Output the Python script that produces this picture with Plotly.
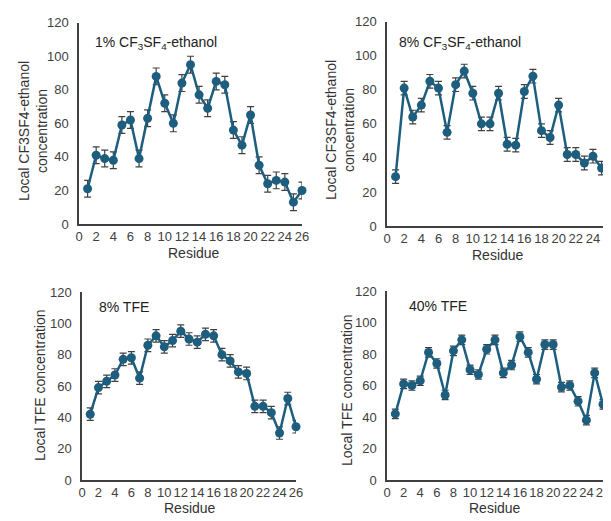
import plotly.graph_objects as go

residue = list(range(1, 27))

cf_1pct = [21, 41, 39, 38, 59, 62, 39, 63, 88, 72, 60, 84, 95, 77, 69, 85, 83, 56, 47, 65, 35, 24, 26, 25, 13, 20]
cf_1pct_err = [5] * 26

cf_8pct = [29, 81, 64, 71, 85, 81, 55, 83, 91, 78, 60, 60, 78, 48, 47.5, 79, 88, 56, 52, 71, 42, 42, 37, 41, 34, 29]
cf_8pct_err = [4] * 26

tfe_8pct = [42, 59, 63, 67, 77, 78, 65, 86, 92, 85, 89, 95, 90, 88, 93, 92, 80, 76, 69, 68, 47, 47, 43, 30, 52, 34]
tfe_8pct_err = [4] * 26

tfe_40pct = [42, 61, 60, 63, 81, 74, 54, 82, 89, 70, 67, 83, 89, 68, 73, 91, 81, 64, 86, 86, 59, 60, 50, 38, 68, 48]
tfe_40pct_err = [3] * 26

panel_labels = ["1% CF<sub>3</sub>SF<sub>4</sub>-ethanol", "8% CF<sub>3</sub>SF<sub>4</sub>-ethanol", "8% TFE", "40% TFE"]
y_titles = ["Local CF3SF4-ethanol<br>concentration", "Local CF3SF4-ethanol<br>concentration",
            "Local TFE concentration", "Local TFE concentration"]
x_title = "Residue"

# page body has an 8px default margin: the figure fills the rest of the window
OFF = 8
W, H = 611 - OFF, 521 - OFF
FONT = "Liberation Sans, Arial, sans-serif"
LINE = "#1d5d7e"
AX = "#404040"

def px_x(p):
    return (p - OFF) / W

def px_y(p):
    return (H - (p - OFF)) / H

# panel geometry in window pixels: (x0, x1, ybottom, ytop, xmax)
geo = [
    (79, 302, 224, 22.7, 26),
    (387, 611, 226, 21.7, 26.1),
    (82, 296, 480, 292, 26),
    (387, 603, 480, 291, 26),
]
series = [(cf_1pct, cf_1pct_err), (cf_8pct, cf_8pct_err), (tfe_8pct, tfe_8pct_err), (tfe_40pct, tfe_40pct_err)]

fig = go.Figure()
layout = dict(width=W, height=H, margin=dict(l=0, r=0, t=0, b=0, autoexpand=False),
              paper_bgcolor="white", plot_bgcolor="white", showlegend=False,
              font=dict(family=FONT, size=13, color=AX))
annotations = []

for i, ((x0, x1, yb, yt, xmax), (vals, errs)) in enumerate(zip(geo, series)):
    n = "" if i == 0 else str(i + 1)
    fig.add_trace(go.Scatter(
        x=residue, y=vals, mode="lines+markers",
        line=dict(color=LINE, width=2.5),
        marker=dict(color=LINE, size=9),
        error_y=dict(type="data", array=errs, visible=True, color=AX, thickness=1.2, width=3.5),
        xaxis="x" + n, yaxis="y" + n, cliponaxis=False,
    ))
    layout["xaxis" + n] = dict(
        domain=[max(0, px_x(x0)), min(1, px_x(x1))], range=[0, xmax], anchor="y" + n, automargin=False,
        tickmode="array", tickvals=list(range(0, 27, 2)), tickangle=0,
        showgrid=False, zeroline=False, showline=True, linecolor=AX, linewidth=1.5,
        ticks="", ticklen=0, ticklabelstandoff=0, tickfont=dict(size=13, color=AX, family=FONT),
    )
    layout["yaxis" + n] = dict(
        domain=[px_y(yb), px_y(yt)], range=[0, 120], anchor="x" + n, automargin=False,
        tickmode="array", tickvals=list(range(0, 121, 20)),
        showgrid=False, zeroline=False, showline=True, linecolor=AX, linewidth=1.5,
        ticks="", ticklen=0, ticklabelstandoff=6, tickfont=dict(size=13, color=AX, family=FONT),
    )

# panel labels
lab_pos = [(92.7, 43), (397, 43), (97, 307), (407, 306)]
for (x, y), t in zip(lab_pos, panel_labels):
    annotations.append(dict(text=t, x=px_x(x), y=px_y(y), xref="paper", yref="paper",
                            xanchor="left", yanchor="middle", showarrow=False,
                            font=dict(size=14, color="#222222", family=FONT)))

# y axis titles
yt_pos = [(33, 131), (340, 130), (40, 385), (347, 390)]
for (x, y), t in zip(yt_pos, y_titles):
    annotations.append(dict(text=t, x=px_x(x), y=px_y(y), xref="paper", yref="paper",
                            xanchor="center", yanchor="middle", textangle=-90, showarrow=False,
                            font=dict(size=14, color="#333333", family=FONT)))

# x axis titles
xt_pos = [(194, 253), (498, 255), (190, 508), (495, 508)]
for (x, y) in xt_pos:
    annotations.append(dict(text=x_title, x=px_x(x), y=px_y(y), xref="paper", yref="paper",
                            xanchor="center", yanchor="middle", showarrow=False,
                            font=dict(size=14, color="#333333", family=FONT)))

layout["annotations"] = annotations
fig.update_layout(**layout)
fig.write_html("out.html")
